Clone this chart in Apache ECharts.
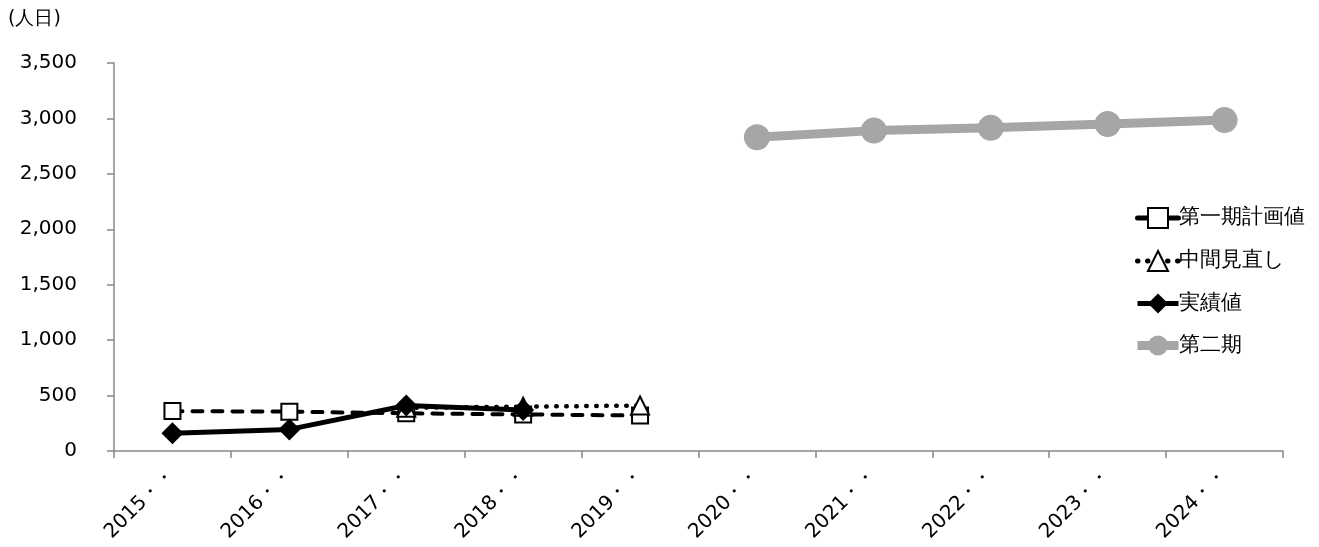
<!DOCTYPE html>
<html><head><meta charset="utf-8">
<script src="https://cdn.jsdelivr.net/npm/echarts@6/dist/echarts.min.js"></script>
<style>html,body{margin:0;padding:0;background:#fff}#c{width:1319px;height:547px}</style>
</head><body><div id="c"></div>
<script>
const categories = ['2015年度','2016年度','2017年度','2018年度','2019年度','2020年度','2021年度','2022年度','2023年度','2024年度'];
const plan1 = [360, 355, 340, 330, 320, null, null, null, null, null];
const midReview = [null, null, 390, 400, 410, null, null, null, null, null];
const actual = [160, 195, 410, 370, null, null, null, null, null, null];
const phase2 = [null, null, null, null, null, 2830, 2890, 2915, 2950, 2985];
const yTicks = {min: 0, max: 3500, interval: 500};
const unitLabel = '(人日)';

const font = '"DejaVu Sans", Verdana, sans-serif';
const chart = echarts.init(document.getElementById('c'));
chart.setOption({
  animation: false,
  textStyle: {fontFamily: font},
  grid: {left: 114, right: 36, top: 63, bottom: 96},
  graphic: [{type: 'text', left: 8, top: 10, style: {text: unitLabel, fontSize: 19, fill: '#000', fontFamily: font}}],
  legend: {
    orient: 'vertical', left: 1128, top: 202, itemGap: 21, itemWidth: 41, itemHeight: 25,
    textStyle: {fontSize: 21, color: '#000', fontFamily: font, padding: [0,0,0,-5]},
    data: [
      {name: '第一期計画値', lineStyle: {width: 5, type: 'solid'}},
      {name: '中間見直し', lineStyle: {width: 5, type: [0.5, 9.5], cap: 'round'}},
      {name: '実績値', lineStyle: {width: 5}},
      {name: '第二期', lineStyle: {width: 9}}
    ]
  },
  xAxis: {
    type: 'category', data: categories, boundaryGap: true,
    axisLine: {lineStyle: {color: '#888888', width: 1.5}},
    axisTick: {show: true, alignWithLabel: false, length: 7, lineStyle: {color: '#888888', width: 1.5}},
    axisLabel: {rotate: 45, fontSize: 20, color: '#000', margin: 20, fontFamily: font,
      formatter: v => v.slice(0, 4) + '・・'}
  },
  yAxis: {
    type: 'value', min: yTicks.min, max: yTicks.max, interval: yTicks.interval,
    splitLine: {show: false},
    axisLine: {show: true, lineStyle: {color: '#888888', width: 1.5}},
    axisTick: {show: true, length: 7, lineStyle: {color: '#888888', width: 1.5}},
    axisLabel: {fontSize: 20, color: '#000', margin: 37, fontFamily: font,
      formatter: v => v.toLocaleString('en-US')}
  },
  series: [
    {name: '第一期計画値', type: 'line', data: plan1, symbol: 'rect', symbolSize: 16,
     itemStyle: {color: '#fff', borderColor: '#000', borderWidth: 2},
     lineStyle: {color: '#000', width: 4, type: [10, 10], cap: 'round'}, z: 2},
    {name: '中間見直し', type: 'line', data: midReview, symbol: 'triangle', symbolSize: 18,
     itemStyle: {color: '#fff', borderColor: '#000', borderWidth: 2},
     lineStyle: {color: '#000', width: 4.5, type: [0.5, 9.5], cap: 'round'}, z: 3},
    {name: '実績値', type: 'line', data: actual, symbol: 'diamond', symbolSize: 22,
     itemStyle: {color: '#000', borderColor: '#000', borderWidth: 0},
     lineStyle: {color: '#000', width: 5}, z: 4},
    {name: '第二期', type: 'line', data: phase2, symbol: 'circle', symbolSize: 26,
     itemStyle: {color: '#a6a6a6'},
     lineStyle: {color: '#a6a6a6', width: 9}, z: 1}
  ]
});
</script></body></html>
